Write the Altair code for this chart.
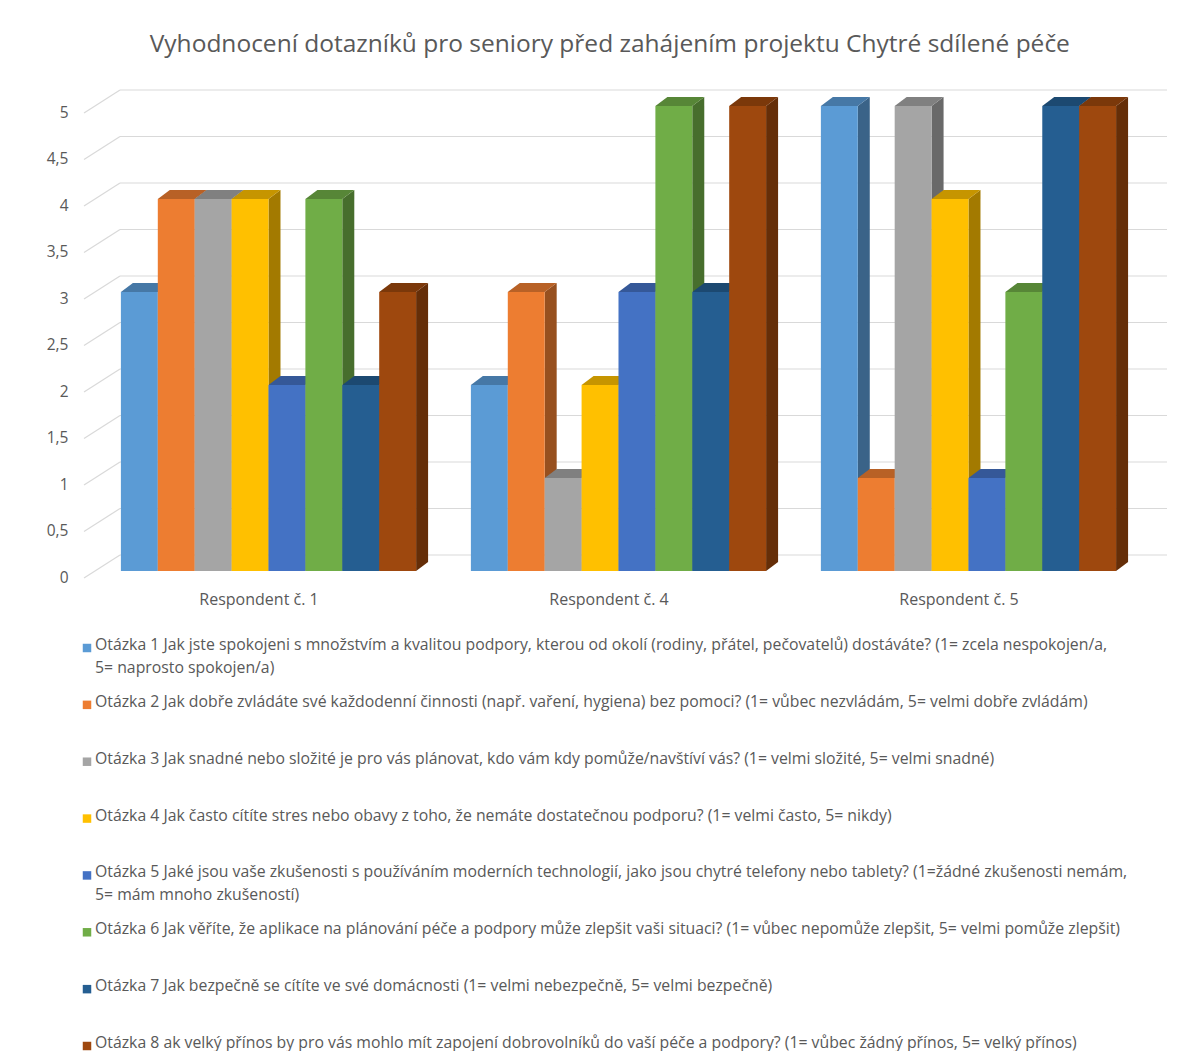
import json

import altair as alt
import pandas as pd

# ---- data -----------------------------------------------------------------
respondents = ["Respondent č. 1", "Respondent č. 4", "Respondent č. 5"]
question_ids = ["Otázka 1", "Otázka 2", "Otázka 3", "Otázka 4",
                "Otázka 5", "Otázka 6", "Otázka 7", "Otázka 8"]

# answers per question, one value per respondent (same order as respondents)
q1_values = [3, 2, 5]
q2_values = [4, 3, 1]
q3_values = [4, 1, 5]
q4_values = [4, 2, 4]
q5_values = [2, 3, 1]
q6_values = [4, 5, 3]
q7_values = [2, 3, 5]
q8_values = [3, 5, 5]
series = [q1_values, q2_values, q3_values, q4_values,
          q5_values, q6_values, q7_values, q8_values]

legend_texts = [
    "Otázka 1 Jak jste spokojeni s množstvím a kvalitou podpory, kterou od okolí (rodiny, přátel, pečovatelů) dostáváte?  (1= zcela nespokojen/a,\n5= naprosto spokojen/a)",
    "Otázka 2  Jak dobře zvládáte své každodenní činnosti (např. vaření, hygiena) bez pomoci? (1= vůbec nezvládám, 5= velmi dobře zvládám)",
    "Otázka 3 Jak snadné nebo složité je pro vás plánovat, kdo vám kdy pomůže/navštíví vás?  (1= velmi složité, 5= velmi snadné)",
    "Otázka 4  Jak často cítíte stres nebo obavy z toho, že nemáte dostatečnou podporu? (1= velmi často, 5= nikdy)",
    "Otázka 5 Jaké jsou vaše zkušenosti s používáním moderních technologií, jako jsou chytré telefony nebo tablety? (1=žádné zkušenosti nemám,\n5= mám mnoho zkušeností)",
    "Otázka 6 Jak věříte, že aplikace na plánování péče a podpory může zlepšit vaši situaci?  (1= vůbec nepomůže zlepšit, 5= velmi pomůže zlepšit)",
    "Otázka 7 Jak bezpečně se cítíte ve své domácnosti  (1= velmi nebezpečně, 5= velmi bezpečně)",
    "Otázka 8 ak velký přínos by pro vás mohlo mít zapojení dobrovolníků do vaší péče a podpory? (1= vůbec žádný přínos, 5= velký přínos)",
]

y_ticks = [0, 0.5, 1, 1.5, 2, 2.5, 3, 3.5, 4, 4.5, 5]

title_text = "Vyhodnocení dotazníků pro seniory před zahájením projektu Chytré sdílené péče"

# ---- styling ----------------------------------------------------------------
palette = ["#5B9BD5", "#ED7D31", "#A5A5A5", "#FFC000",
           "#4472C4", "#70AD47", "#255E91", "#9E480E"]
TEXT = "#595959"
GRID = "#d9d9d9"
FONT = "Open Sans"


def shade(hex_color, k):
    r, g, b = (int(hex_color[i:i + 2], 16) for i in (1, 3, 5))
    return "#{:02x}{:02x}{:02x}".format(int(r * k), int(g * k), int(b * k))


top_colors = [shade(c, 0.78) for c in palette]
side_colors = [shade(c, 0.64) for c in palette]

# geometry of the pseudo-3D columns
W, H = 1083, 465            # plot area
STEP = 9.485                # distance between clusters, in column widths
DEPTH_X = 0.325             # column depth, horizontal part (column widths)
DEPTH_Y = 0.097             # column depth, vertical part (value units)
WALL_X = 36                 # back wall start, px from the view's left edge
WALL_DY = -16               # back wall lift, px
FLOOR_DY = 7                # front edge of the side wall, px

x_scale = alt.Scale(domain=[-1.0, 28.35], nice=False, zero=False)
y_scale = alt.Scale(domain=[0, 5], nice=False)

centers = [i * STEP + 4 for i in range(len(respondents))]
x_axis = alt.Axis(
    values=centers,
    labelExpr=f"{json.dumps(respondents, ensure_ascii=False)}[round((datum.value - 4) / {STEP})]",
    domain=False, ticks=False, grid=False, title=None,
    labelPadding=20, labelFontSize=16, labelColor=TEXT, labelOffset=-10,
    labelFont=FONT,
)
y_axis = alt.Axis(
    values=y_ticks,
    labelExpr="replace(format(datum.value, '.1~f'), '.', ',')",
    domain=False, ticks=False, grid=False, title=None,
    labelPadding=16, labelFontSize=15.5, labelColor=TEXT, labelOffset=6,
    labelFont=FONT, minExtent=84, maxExtent=84,
)

# ---- tables built from the arrays ------------------------------------------
front_rows, side_rows, top_rows = [], [], []
for r_i, resp in enumerate(respondents):
    for q_i, vals in enumerate(series):
        v = vals[r_i]
        pos = r_i * STEP + q_i
        bar = f"{r_i}-{q_i}"
        front_rows.append(dict(bar=bar, x0=pos, x1=pos + 1, v=v, base=0,
                               fill=palette[q_i]))
        side_rows.append(dict(bar=bar, sx=pos + 1, top=v, bot=0,
                              fill=side_colors[q_i]))
        side_rows.append(dict(bar=bar, sx=pos + 1 + DEPTH_X, top=v + DEPTH_Y,
                              bot=DEPTH_Y, fill=side_colors[q_i]))
        top_rows.append(dict(bar=bar, ty=v, tx0=pos, tx1=pos + 1,
                             fill=top_colors[q_i]))
        top_rows.append(dict(bar=bar, ty=v + DEPTH_Y, tx0=pos + DEPTH_X,
                             tx1=pos + 1 + DEPTH_X, fill=top_colors[q_i]))

front_df = pd.DataFrame(front_rows)
side_df = pd.DataFrame(side_rows)
top_df = pd.DataFrame(top_rows)
grid_df = pd.DataFrame({"g": y_ticks})
legend_df = pd.DataFrame({"idx": list(range(len(question_ids))),
                          "question": question_ids,
                          "text": legend_texts,
                          "fill": palette})

# ---- plot layers --------------------------------------------------------------
wall = alt.Chart(grid_df).mark_rule(color=GRID, strokeWidth=1.2, yOffset=WALL_DY).encode(
    x=alt.value(WALL_X), x2=alt.value(W),
    y=alt.Y("g:Q", scale=y_scale, axis=y_axis),
)
side_wall = alt.Chart(grid_df).mark_rule(
    color=GRID, strokeWidth=1.2, yOffset=FLOOR_DY, y2Offset=WALL_DY
).encode(
    x=alt.value(0), x2=alt.value(WALL_X),
    y=alt.Y("g:Q", scale=y_scale, axis=y_axis), y2="g:Q",
)
sides = alt.Chart(side_df).mark_area(orient="vertical").encode(
    x=alt.X("sx:Q", scale=x_scale, axis=x_axis),
    y=alt.Y("top:Q", scale=y_scale, axis=y_axis, stack=None),
    y2="bot:Q",
    detail="bar:N",
    color=alt.Color("fill:N", scale=None),
)
tops = alt.Chart(top_df).mark_area(orient="horizontal").encode(
    y=alt.Y("ty:Q", scale=y_scale, axis=y_axis),
    x=alt.X("tx0:Q", scale=x_scale, axis=x_axis, stack=None),
    x2="tx1:Q",
    detail="bar:N",
    color=alt.Color("fill:N", scale=None),
)
fronts = alt.Chart(front_df).mark_rect().encode(
    x=alt.X("x0:Q", scale=x_scale, axis=x_axis),
    x2="x1:Q",
    y=alt.Y("v:Q", scale=y_scale, axis=y_axis),
    y2="base:Q",
    color=alt.Color("fill:N", scale=None),
)

plot = alt.layer(wall, side_wall, sides, tops, fronts).properties(width=W, height=H)

# ---- legend -----------------------------------------------------------------
leg_y = alt.Y("idx:Q", scale=alt.Scale(domain=[0, 7], reverse=True), axis=None)
leg_squares = alt.Chart(legend_df).mark_square(size=72, opacity=1).encode(
    x=alt.value(3), y=leg_y, color=alt.Color("fill:N", scale=None),
)
leg_text = alt.Chart(legend_df).mark_text(
    align="left", baseline="top", dy=-10, lineBreak="\n", lineHeight=23,
    fontSize=15.8, color=TEXT, font=FONT,
).encode(x=alt.value(11), y=leg_y, text="text:N")
legend = alt.layer(leg_squares, leg_text).properties(width=W, height=398)

chart = alt.vconcat(plot, legend, spacing=30).properties(
    title=alt.TitleParams(title_text, fontSize=24.5, color=TEXT, font=FONT,
                          fontWeight="normal", anchor="middle", offset=32, dx=26),
    padding={"left": 0, "top": 31, "right": 0, "bottom": 0},
).configure(
    font=FONT,
    view=alt.ViewConfig(stroke="transparent", strokeWidth=0),
)

chart.save("out.html", embed_options={"renderer": "svg", "actions": False})
